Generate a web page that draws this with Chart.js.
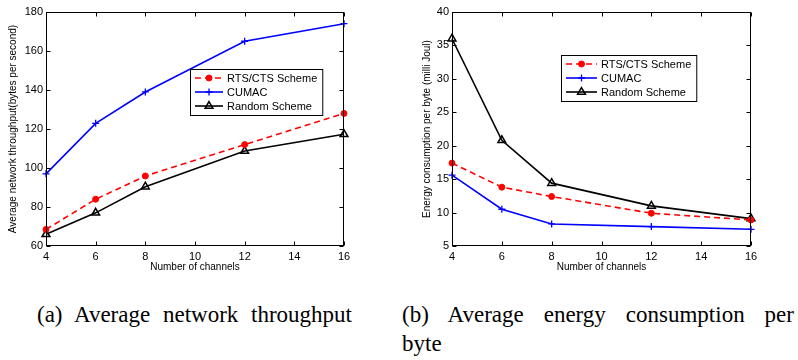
<!DOCTYPE html>
<html>
<head>
<meta charset="utf-8">
<script src="https://cdn.jsdelivr.net/npm/chart.js@4.4.0/dist/chart.umd.min.js"></script>
<style>
  body { margin: 0; background: #fff; width: 798px; height: 360px; overflow: hidden; position: relative; }
  .panel { position: absolute; top: 0; height: 280px; }
  .cap { position: absolute; font-family: "Liberation Serif", "Times New Roman", serif; font-size: 23px; line-height: 24px; color: #000; white-space: nowrap; }
</style>
</head>
<body>
<div class="panel" style="left:0;width:400px"><canvas id="left"></canvas></div>
<div class="panel" style="left:400px;width:398px"><canvas id="right"></canvas></div>
<div class="cap" style="left:37px;top:303px;word-spacing:7px">(a) Average network throughput</div>
<div class="cap" style="left:402px;top:303px;width:392px;text-align:justify;text-align-last:justify;white-space:normal">(b) Average energy consumption per</div>
<div class="cap" style="left:402px;top:332px">byte</div>
<script>
const channels = [4, 6, 8, 12, 16];

const throughputRts = [68.5, 84, 95.9, 112, 128];
const throughputCumac = [97, 122.9, 139, 165, 174];
const throughputRandom = [66, 77, 90.4, 108.7, 117.3];

const energyRts = [17.4, 13.8, 12.4, 9.9, 8.9];
const energyCumac = [15.6, 10.5, 8.3, 7.9, 7.5];
const energyRandom = [36, 20.8, 14.4, 11, 9.1];

const seriesNames = ["RTS/CTS Scheme", "CUMAC", "Random Scheme"];

const sans = "'Liberation Sans', Arial, sans-serif";

// box + inward ticks on all four sides, matlab style
const matlabAxes = {
  id: "matlabAxes",
  afterDatasetsDraw(chart) {
    const { ctx, chartArea: a, scales } = chart;
    const l = Math.round(a.left) + 0.5, r = Math.round(a.right) - 0.5;
    const t = Math.round(a.top) + 0.5, b = Math.round(a.bottom) - 0.5;
    ctx.save();
    ctx.strokeStyle = "#000";
    ctx.lineWidth = 1;
    ctx.beginPath();
    scales.x.ticks.forEach((tk) => {
      const px = Math.round(scales.x.getPixelForValue(tk.value)) + 0.5;
      ctx.moveTo(px, b); ctx.lineTo(px, b - 4);
      ctx.moveTo(px, t); ctx.lineTo(px, t + 4);
    });
    scales.y.ticks.forEach((tk) => {
      const py = Math.round(scales.y.getPixelForValue(tk.value)) + 0.5;
      ctx.moveTo(l, py); ctx.lineTo(l + 4, py);
      ctx.moveTo(r, py); ctx.lineTo(r - 4, py);
    });
    ctx.stroke();
    ctx.strokeRect(l, t, r - l, b - t);
    ctx.restore();
  },
};

const boxLegend = {
  id: "boxLegend",
  afterDraw(chart, args, opts) {
    const { ctx } = chart;
    const sets = chart.data.datasets;
    ctx.save();
    ctx.font = "11px " + sans;
    const textW = Math.max(...sets.map((d) => ctx.measureText(d.label).width));
    const lineLen = opts.lineLen, rowH = 14;
    const w = 5 + lineLen + 4 + textW + 5;
    const h = rowH * sets.length + 4;
    ctx.fillStyle = "#fff";
    ctx.fillRect(opts.left, opts.top, w, h);
    ctx.strokeStyle = "#000";
    ctx.lineWidth = 1;
    ctx.strokeRect(opts.left + 0.5, opts.top + 0.5, w, h);
    sets.forEach((d, i) => {
      const cy = opts.top + 9 + i * rowH;
      const x0 = opts.left + 5;
      ctx.strokeStyle = d.borderColor;
      ctx.lineWidth = d.borderWidth;
      ctx.setLineDash(d.borderDash || []);
      ctx.beginPath();
      ctx.moveTo(x0, cy);
      ctx.lineTo(x0 + lineLen, cy);
      ctx.stroke();
      ctx.setLineDash([]);
      ctx.fillStyle = d.pointBackgroundColor;
      ctx.strokeStyle = d.pointBorderColor;
      ctx.lineWidth = d.pointBorderWidth;
      Chart.helpers.drawPoint(ctx, { pointStyle: d.pointStyle, radius: d.pointRadius, rotation: 0, borderWidth: d.pointBorderWidth }, x0 + lineLen / 2, cy);
      ctx.fillStyle = "#000";
      ctx.textBaseline = "middle";
      ctx.textAlign = "left";
      ctx.fillText(d.label, x0 + lineLen + 4, cy + 0.5);
    });
    ctx.restore();
  },
};

function makeSets(rts, cumac, random) {
  const pts = (vals) => channels.map((c, i) => ({ x: c, y: vals[i] }));
  return [
    {
      label: seriesNames[0], data: pts(rts),
      borderColor: "#ff0000", borderWidth: 1.6, borderDash: [6, 4],
      pointStyle: "circle", pointRadius: 3, pointBackgroundColor: "#ff0000",
      pointBorderColor: "#ff0000", pointBorderWidth: 1,
    },
    {
      label: seriesNames[1], data: pts(cumac),
      borderColor: "#0000ff", borderWidth: 1.6,
      pointStyle: "cross", pointRadius: 3.5, pointBackgroundColor: "#0000ff",
      pointBorderColor: "#0000ff", pointBorderWidth: 1.3,
    },
    {
      label: seriesNames[2], data: pts(random),
      borderColor: "#000000", borderWidth: 1.6,
      pointStyle: "triangle", pointRadius: 4.5, pointBackgroundColor: "rgba(0,0,0,0)",
      pointBorderColor: "#000000", pointBorderWidth: 1.5,
    },
  ];
}

function makeChart(id, sets, yMin, yMax, yStep, yTitle, pad, yWidth, legendPos) {
  return new Chart(document.getElementById(id), {
    type: "line",
    data: { datasets: sets.map((s) => ({ ...s, tension: 0, clip: false, fill: false })) },
    plugins: [matlabAxes, boxLegend],
    options: {
      responsive: true,
      maintainAspectRatio: false,
      animation: false,
      layout: { padding: pad },
      plugins: {
        legend: { display: false },
        tooltip: { enabled: false },
        boxLegend: legendPos,
      },
      scales: {
        x: {
          type: "linear", min: 4, max: 16,
          grid: { display: false, drawTicks: false },
          border: { display: false },
          ticks: { stepSize: 2, padding: 4, color: "#000", font: { family: sans, size: 11 } },
          title: { display: true, text: "Number of channels", color: "#000", padding: 0, font: { family: sans, size: 10 } },
          afterFit: (s) => { s.height = 27; },
        },
        y: {
          min: yMin, max: yMax,
          grid: { display: false, drawTicks: false },
          border: { display: false },
          ticks: { stepSize: yStep, padding: 3, color: "#000", font: { family: sans, size: 11 } },
          title: { display: true, text: yTitle, color: "#000", padding: 0, font: { family: sans, size: 10 } },
          afterFit: (s) => { s.width = yWidth; },
        },
      },
    },
  });
}

makeChart("left", makeSets(throughputRts, throughputCumac, throughputRandom), 60, 180, 20,
  "Average network throughput(bytes per second)",
  { left: 7, right: 56, top: 12, bottom: 7 }, 39, { left: 190, top: 69, lineLen: 28 });

makeChart("right", makeSets(energyRts, energyCumac, energyRandom), 5, 40, 5,
  "Energy consumption per byte (milli Joul)",
  { left: 21, right: 47, top: 12, bottom: 7 }, 31, { left: 161, top: 55, lineLen: 31 });
</script>
</body>
</html>
